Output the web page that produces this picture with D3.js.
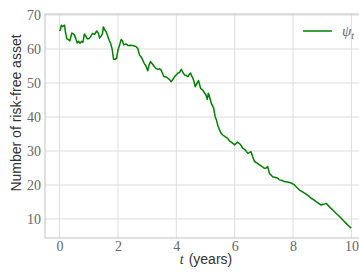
<!DOCTYPE html>
<html lang="en">
<head>
<meta charset="utf-8">
<title>psi_t</title>
<script src="https://d3js.org/d3.v7.min.js"></script>
<style>
  body { margin: 0; background: #fff; }
</style>
</head>
<body>
<div id="chart"></div>
<script>
  // time (years) and number of risk-free asset
  var years = [0, 0.03, 0.06, 0.1, 0.17, 0.2, 0.25, 0.3, 0.35, 0.42, 0.5, 0.55, 0.6, 0.65, 0.7, 0.75, 0.8, 0.85,
    0.9, 0.95, 1.0, 1.05, 1.13, 1.2, 1.27, 1.33, 1.37, 1.42, 1.47, 1.5, 1.55, 1.6, 1.7, 1.75, 1.8, 1.85, 1.9, 1.95,
    2.0, 2.05, 2.11, 2.15, 2.2, 2.28, 2.35, 2.45, 2.57, 2.63, 2.68, 2.74, 2.8, 2.9, 2.96, 3.02, 3.07, 3.12, 3.18, 3.25,
    3.3, 3.37, 3.43, 3.48, 3.57, 3.65, 3.71, 3.77, 3.82, 3.88, 3.94, 4.0, 4.05, 4.11, 4.17, 4.22, 4.28, 4.34, 4.4,
    4.45, 4.49, 4.53, 4.57, 4.61, 4.65, 4.7, 4.76, 4.8, 4.83, 4.9, 4.97, 5.02, 5.06, 5.1, 5.15, 5.2, 5.28, 5.33,
    5.38, 5.42, 5.48, 5.53, 5.59, 5.67, 5.76, 5.82, 5.93, 6.0, 6.05, 6.1, 6.2, 6.28, 6.36, 6.45, 6.5, 6.56, 6.62,
    6.68, 6.76, 6.85, 6.93, 7.02, 7.08, 7.13, 7.19, 7.25, 7.3, 7.4, 7.48, 7.53, 7.6, 7.7, 7.8, 7.88, 7.96, 8.05,
    8.14, 8.22, 8.3, 8.39, 8.5, 8.62, 8.7, 8.79, 8.88, 8.96, 9.05, 9.13, 9.2, 9.3, 9.38, 9.47, 9.56, 9.65, 9.73,
    9.82, 9.9, 9.99];
  var psi = [65.3, 65.8, 67.0, 66.6, 67.0, 65.0, 63.0, 62.8, 62.4, 64.7, 64.3, 63.2, 61.8, 62.3, 61.7, 62.2, 62.0, 64.4,
    63.8, 63.0, 63.0, 63.5, 64.6, 64.3, 65.3, 64.6, 63.2, 63.8, 64.5, 66.5, 65.6, 65.0, 62.6, 61.6, 60.0, 57.0, 57.0, 57.2,
    59.7, 61.0, 62.8, 62.4, 61.2, 61.5, 61.0, 61.1, 60.9, 60.6, 60.2, 58.2, 57.6, 55.8, 55.0, 53.6, 55.4, 56.3, 55.6, 54.8,
    54.3, 54.0, 54.2, 53.8, 51.9, 51.8, 51.4, 51.0, 50.4, 51.0, 51.9, 52.4, 52.9, 53.1, 54.0, 53.2, 52.4, 52.2, 51.9,
    52.6, 52.9, 52.0, 51.4, 50.3, 48.9, 49.8, 50.7, 49.5, 48.4, 48.0, 47.0, 46.4, 45.2, 47.0, 45.6, 44.0, 42.6, 40.1,
    39.0, 37.6, 36.2, 35.3, 34.7, 34.2, 33.7, 33.0, 32.3, 31.8, 32.2, 32.6, 31.9, 30.8, 30.3, 29.3, 29.5, 29.8, 28.2,
    26.9, 26.5, 25.9, 25.5, 24.9, 25.0, 25.4, 23.4, 22.9, 22.4, 22.2, 22.0, 21.5, 21.4, 21.0, 20.9, 20.7, 20.5, 20.0,
    19.2, 18.5, 18.1, 17.6, 17.0, 16.1, 15.7, 15.1, 14.6, 14.1, 14.3, 14.6, 14.0, 13.1, 12.5, 11.7, 11.0, 10.2, 9.5,
    8.7, 8.0, 7.3];
  var xTicks = [0, 2, 4, 6, 8, 10];
  var yTicks = [10, 20, 30, 40, 50, 60, 70];

  var width = 359, height = 275;
  var margin = {left: 45, top: 14, right: -7, bottom: 37};
  var w = width - margin.left - margin.right;
  var h = height - margin.top - margin.bottom;

  var svg = d3.select("#chart").append("svg")
    .attr("width", width)
    .attr("height", height);

  var g = svg.append("g").attr("transform", "translate(" + margin.left + "," + margin.top + ")");

  var x = d3.scaleLinear().domain([-0.5, 10.5]).range([0, w]);
  var y = d3.scaleLinear().domain([4.4, 70.3]).range([h, 0]);

  // grid
  g.append("g").selectAll("line").data(xTicks).enter().append("line")
    .attr("x1", function(d) { return x(d); }).attr("x2", function(d) { return x(d); })
    .attr("y1", 0).attr("y2", h)
    .attr("stroke", "#dddddd").attr("stroke-width", 1);
  g.append("g").selectAll("line").data(yTicks).enter().append("line")
    .attr("y1", function(d) { return y(d); }).attr("y2", function(d) { return y(d); })
    .attr("x1", 0).attr("x2", w)
    .attr("stroke", "#dddddd").attr("stroke-width", 1);

  // frame
  g.append("rect").attr("x", 0).attr("y", 0).attr("width", w).attr("height", h)
    .attr("fill", "none").attr("stroke", "#cccccc").attr("stroke-width", 1.2);

  // axes, labels only
  var xAxis = g.append("g").attr("transform", "translate(0," + h + ")")
    .call(d3.axisBottom(x).tickValues(xTicks).tickSize(0).tickPadding(3));
  var yAxis = g.append("g")
    .call(d3.axisLeft(y).tickValues(yTicks).tickSize(0).tickPadding(4));
  xAxis.select(".domain").remove();
  yAxis.select(".domain").remove();
  xAxis.attr("font-family", "Liberation Serif").attr("font-size", 14);
  yAxis.attr("font-family", "Liberation Serif").attr("font-size", 14);
  svg.selectAll(".tick text").attr("fill", "#666");

  // line
  var line = d3.line()
    .x(function(d, i) { return x(years[i]); })
    .y(function(d) { return y(d); });
  g.append("path").datum(psi)
    .attr("d", line)
    .attr("fill", "none")
    .attr("stroke", "#008000")
    .attr("stroke-width", 1.5)
    .attr("stroke-linejoin", "round");

  // axis titles
  svg.append("text")
    .attr("transform", "translate(21,113) rotate(-90)")
    .attr("text-anchor", "middle")
    .attr("font-family", "Liberation Sans")
    .attr("font-size", 14)
    .attr("fill", "#333")
    .text("Number of risk-free asset");

  var xl = svg.append("text")
    .attr("x", 206).attr("y", 264)
    .attr("text-anchor", "middle")
    .attr("font-size", 14)
    .attr("fill", "#333");
  xl.append("tspan").attr("font-family", "Liberation Serif").attr("font-style", "italic").text("t");
  xl.append("tspan").attr("font-family", "Liberation Sans").attr("dx", 5).text("(years)");

  // legend
  svg.append("line")
    .attr("x1", 303).attr("x2", 332).attr("y1", 31).attr("y2", 31)
    .attr("stroke", "#008000").attr("stroke-width", 1.5);
  var lt = svg.append("text")
    .attr("x", 342).attr("y", 36)
    .attr("font-family", "Liberation Serif")
    .attr("font-style", "italic")
    .attr("font-size", 15)
    .attr("fill", "#666");
  lt.append("tspan").text("ψ");
  lt.append("tspan").attr("font-size", 10).attr("dy", 3).text("t");
</script>
</body>
</html>
